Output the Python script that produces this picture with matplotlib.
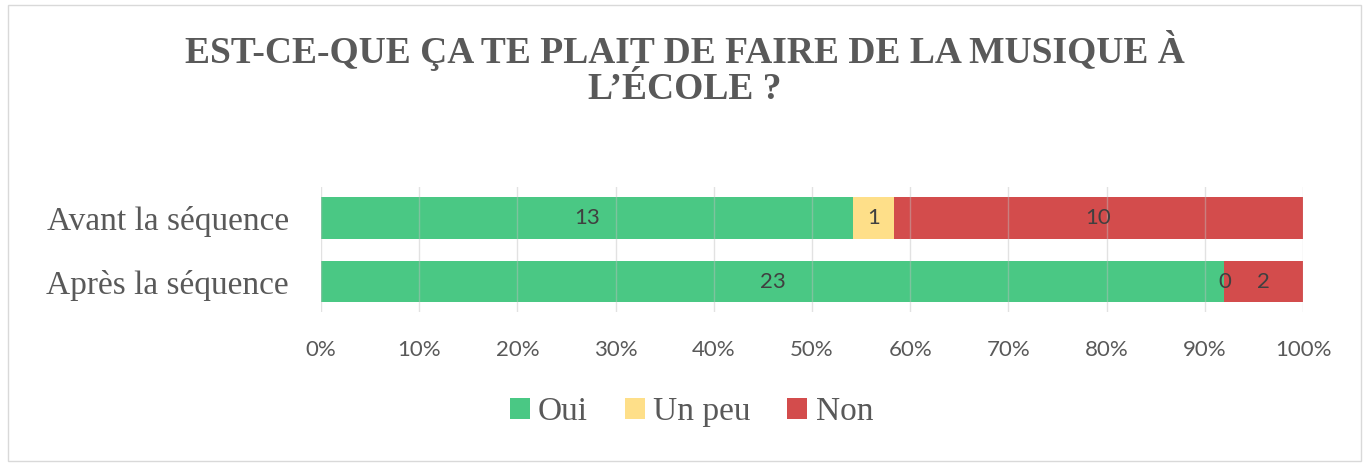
import matplotlib.pyplot as plt
from matplotlib.patches import Rectangle

categories = ['Après la séquence', 'Avant la séquence']
series = ['Oui', 'Un peu', 'Non']
counts = {
    'Oui': [23, 13],
    'Un peu': [0, 1],
    'Non': [2, 10],
}
colors = {'Oui': '#4AC884', 'Un peu': '#FEDF89', 'Non': '#D34C4C'}
xticks = [0, 10, 20, 30, 40, 50, 60, 70, 80, 90, 100]

totals = [sum(counts[s][i] for s in series) for i in range(len(categories))]

fig = plt.figure(figsize=(13.69, 4.68), dpi=100)
ax = fig.add_axes([0.2345, 0.3333, 0.7173, 0.2671])

left = [0, 0]
for s in series:
    pct = [100 * c / t for c, t in zip(counts[s], totals)]
    bars = ax.barh(range(len(categories)), pct, left=left, height=0.66,
                   color=colors[s], label=s, zorder=2)
    ax.bar_label(bars, labels=[str(c) for c in counts[s]], label_type='center',
                 color='#404040', fontsize=16, family='Lato')
    left = [l + p for l, p in zip(left, pct)]

ax.set_xlim(0, 100)
ax.set_ylim(-0.48, 1.49)
ax.set_xticks(xticks)
ax.set_xticklabels([f'{t}%' for t in xticks], family='Lato', fontsize=16, color='#595959')
ax.set_yticks(range(len(categories)))
ax.set_yticklabels(categories, family='Liberation Serif', fontsize=24, color='#595959')
ax.tick_params(length=0, pad=20, axis='x')
ax.tick_params(length=0, pad=23, axis='y')
for sp in ax.spines.values():
    sp.set_visible(False)
ax.grid(axis='x', color='#BFBFBF', alpha=0.45, linewidth=1, zorder=3)
ax.set_axisbelow(False)

fig.text(0.5, 0.853, 'EST-CE-QUE ÇA TE PLAIT DE FAIRE DE LA MUSIQUE À\nL’ÉCOLE ?',
         ha='center', va='center', family='Liberation Serif', fontweight='bold',
         fontsize=27, color='#595959', linespacing=1.05)

leg = fig.legend(loc='center', bbox_to_anchor=(0.505, 0.12), ncol=3, frameon=False,
                 prop={'family': 'Liberation Serif', 'size': 24},
                 handlelength=0.6, handleheight=0.6, handletextpad=0.25, columnspacing=1.1)
for t in leg.get_texts():
    t.set_color('#595959')

fig.patches.append(Rectangle((0.006, 0.015), 0.988, 0.975, transform=fig.transFigure,
                             fill=False, edgecolor='#D9D9D9', linewidth=1))

fig.savefig('out.png', dpi=100)
